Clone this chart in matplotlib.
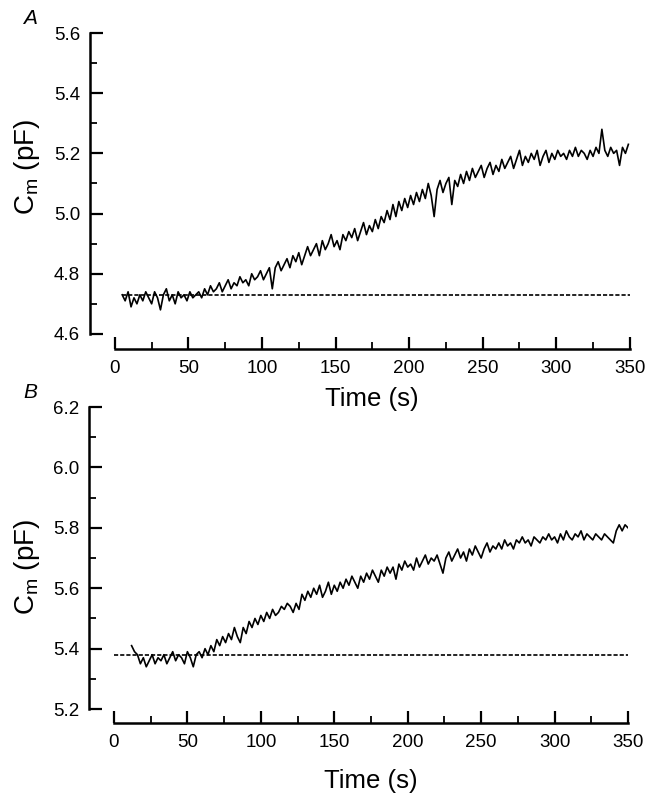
import numpy as np
import matplotlib
matplotlib.use('Agg')
import matplotlib.pyplot as plt
from matplotlib.ticker import MultipleLocator

plt.rcParams['font.family'] = ['Liberation Sans', 'DejaVu Sans']
plt.rcParams['mathtext.default'] = 'regular'

# panel A: Cm trace sampled every 2 s from t = 5 s
t0_a = 5
cm_a = [4.73, 4.71, 4.74, 4.69, 4.72, 4.70, 4.73, 4.71, 4.74, 4.72,
        4.70, 4.74, 4.72, 4.68, 4.73, 4.75, 4.71, 4.73, 4.70, 4.74,
        4.72, 4.73, 4.71, 4.74, 4.72, 4.73, 4.74, 4.72, 4.75, 4.73,
        4.76, 4.74, 4.75, 4.77, 4.74, 4.76, 4.78, 4.75, 4.77, 4.76,
        4.79, 4.77, 4.78, 4.76, 4.80, 4.78, 4.79, 4.81, 4.78, 4.80,
        4.82, 4.75, 4.82, 4.84, 4.81, 4.83, 4.85, 4.82, 4.86, 4.84,
        4.87, 4.83, 4.86, 4.89, 4.86, 4.88, 4.90, 4.86, 4.91, 4.88,
        4.90, 4.93, 4.89, 4.91, 4.88, 4.93, 4.91, 4.94, 4.92, 4.95,
        4.91, 4.94, 4.97, 4.93, 4.96, 4.94, 4.98, 4.95, 4.99, 4.97,
        5.01, 4.98, 5.03, 4.99, 5.04, 5.01, 5.05, 5.02, 5.06, 5.03,
        5.07, 5.04, 5.08, 5.05, 5.10, 5.06, 4.99, 5.08, 5.11, 5.07,
        5.10, 5.12, 5.03, 5.11, 5.09, 5.13, 5.10, 5.14, 5.11, 5.15,
        5.12, 5.14, 5.16, 5.12, 5.15, 5.17, 5.13, 5.16, 5.14, 5.18,
        5.15, 5.17, 5.19, 5.15, 5.18, 5.21, 5.16, 5.19, 5.17, 5.20,
        5.18, 5.21, 5.16, 5.19, 5.21, 5.17, 5.20, 5.18, 5.21, 5.19,
        5.20, 5.18, 5.21, 5.19, 5.22, 5.19, 5.21, 5.20, 5.18, 5.21,
        5.19, 5.22, 5.20, 5.28, 5.21, 5.19, 5.22, 5.20, 5.21, 5.16,
        5.22, 5.20, 5.23]
base_a = 4.73

# panel B: Cm trace sampled every 2 s from t = 12 s
t0_b = 12
cm_b = [5.41, 5.39, 5.38, 5.35, 5.37, 5.34, 5.36, 5.38, 5.35, 5.37,
        5.36, 5.38, 5.35, 5.37, 5.39, 5.36, 5.38, 5.37, 5.35, 5.39,
        5.37, 5.34, 5.38, 5.39, 5.37, 5.40, 5.38, 5.41, 5.39, 5.43,
        5.41, 5.44, 5.42, 5.45, 5.43, 5.47, 5.44, 5.42, 5.47, 5.45,
        5.49, 5.47, 5.50, 5.48, 5.51, 5.49, 5.52, 5.50, 5.53, 5.51,
        5.52, 5.54, 5.53, 5.55, 5.54, 5.52, 5.55, 5.53, 5.58, 5.56,
        5.59, 5.57, 5.60, 5.58, 5.61, 5.57, 5.59, 5.62, 5.58, 5.61,
        5.59, 5.62, 5.60, 5.63, 5.61, 5.64, 5.62, 5.60, 5.64, 5.62,
        5.65, 5.63, 5.66, 5.64, 5.62, 5.66, 5.64, 5.67, 5.65, 5.67,
        5.63, 5.68, 5.66, 5.69, 5.67, 5.68, 5.66, 5.70, 5.67, 5.69,
        5.71, 5.68, 5.70, 5.69, 5.71, 5.68, 5.65, 5.70, 5.72, 5.69,
        5.71, 5.73, 5.70, 5.72, 5.69, 5.73, 5.71, 5.74, 5.72, 5.70,
        5.73, 5.75, 5.72, 5.74, 5.73, 5.75, 5.73, 5.76, 5.74, 5.75,
        5.73, 5.76, 5.75, 5.77, 5.75, 5.76, 5.74, 5.77, 5.76, 5.75,
        5.77, 5.76, 5.78, 5.76, 5.77, 5.75, 5.78, 5.76, 5.79, 5.77,
        5.76, 5.78, 5.77, 5.79, 5.76, 5.78, 5.77, 5.76, 5.78, 5.77,
        5.76, 5.78, 5.77, 5.76, 5.75, 5.79, 5.81, 5.79, 5.81, 5.80]
base_b = 5.38

t_a = t0_a + 2 * np.arange(len(cm_a))
t_b = t0_b + 2 * np.arange(len(cm_b))

fig = plt.figure(figsize=(6.51, 8.05), dpi=100)
ax_a = fig.add_axes([0.138, 0.5665, 0.8295, 0.3925])
ax_b = fig.add_axes([0.1367, 0.1019, 0.828, 0.3925])
ax_a.patch.set_visible(False)
ax_b.patch.set_visible(False)


def style_axis(ax, ylo, yhi, ybottom):
    ax.set_xlim(-17, 350)
    ax.set_ylim(ybottom, yhi)
    for s in ['top', 'right']:
        ax.spines[s].set_visible(False)
    ax.spines['left'].set_bounds(ylo, yhi)
    ax.spines['bottom'].set_bounds(0, 350)
    ax.spines['left'].set_linewidth(1.8)
    ax.spines['bottom'].set_linewidth(1.8)
    ax.xaxis.set_minor_locator(MultipleLocator(25))
    ax.yaxis.set_minor_locator(MultipleLocator(0.1))
    ax.tick_params(which='major', direction='in', length=9, width=1.6,
                   labelsize=13.5)
    ax.tick_params(which='minor', direction='in', length=5, width=1.3)
    ax.tick_params(axis='y', pad=7)
    ax.tick_params(axis='x', pad=8)
    ax.set_xticks(np.arange(0, 351, 50))
    yt = np.round(np.arange(ylo, yhi + 0.01, 0.2), 1)
    ax.set_yticks(yt)
    ax.set_yticklabels(['%.1f' % v for v in yt])


# panel A
ax_a.plot(t_a, cm_a, color='black', lw=1.2)
ax_a.plot([t0_a, 350], [base_a, base_a], color='black', lw=1.2,
          linestyle=(0, (2.5, 1.2)))
style_axis(ax_a, 4.6, 5.6, 4.55)
ax_a.set_xlabel('Time (s)', fontsize=18.5)
ax_a.xaxis.set_label_coords(0.522, -0.12)
ax_a.set_ylabel('C$_m$ (pF)', fontsize=20)
ax_a.yaxis.set_label_coords(-0.089, 0.576)

# panel B
ax_b.plot(t_b, cm_b, color='black', lw=1.2)
ax_b.plot([0, 350], [base_b, base_b], color='black', lw=1.2,
          linestyle=(0, (2.5, 1.2)))
style_axis(ax_b, 5.2, 6.2, 5.154)
ax_b.set_xlabel('Time (s)', fontsize=18.5)
ax_b.xaxis.set_label_coords(0.522, -0.145)
ax_b.set_ylabel('C$_m$ (pF)', fontsize=20)
ax_b.yaxis.set_label_coords(-0.087, 0.494)

fig.text(30 / 651, 1 - 19 / 805, 'A', fontsize=15, style='italic',
         ha='center', va='center')
fig.text(30 / 651, 1 - 392 / 805, 'B', fontsize=15, style='italic',
         ha='center', va='center')

fig.savefig('out.png', dpi=100)
